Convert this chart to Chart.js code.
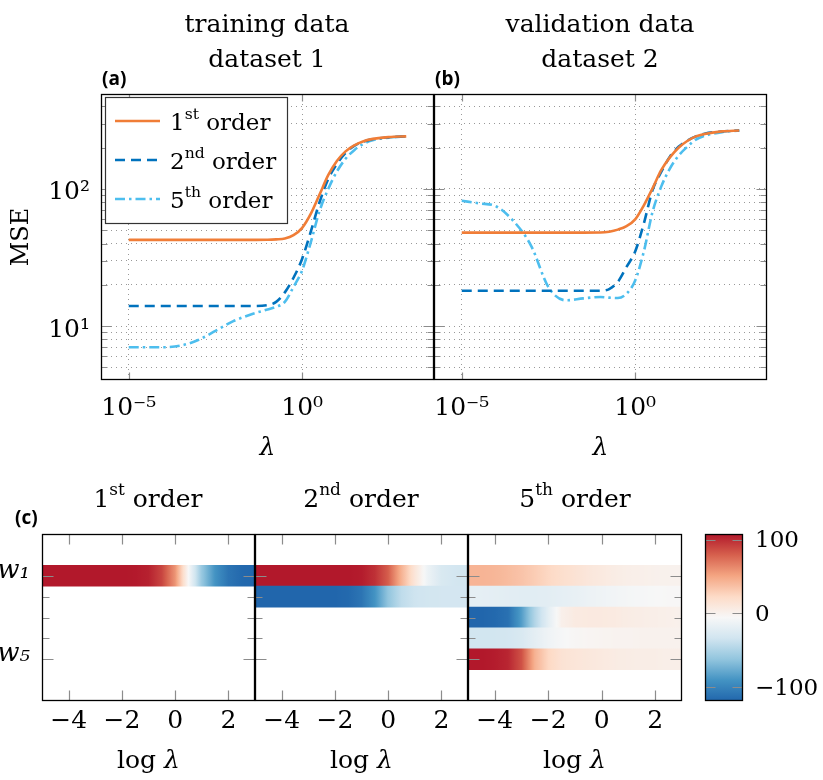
<!DOCTYPE html>
<html>
<head>
<meta charset="utf-8">
<script src="https://cdn.jsdelivr.net/npm/chart.js@4.4.1/dist/chart.umd.min.js"></script>
<style>
  body { margin: 0; background: #fff; }
  #wrap { position: relative; width: 823px; height: 780px; overflow: hidden; font-family: 'DejaVu Serif', serif; color: #000; }
  canvas { position: absolute; }
  .t { position: absolute; width: 220px; text-align: center; font-size: 25px; line-height: 35px; white-space: nowrap; }
  .tag { position: absolute; font-family: 'Open Sans', sans-serif; font-weight: bold; font-size: 19px; line-height: 19px; }
  sup { font-size: 0.68em; vertical-align: baseline; position: relative; top: -0.7em; }
  .xl { position: absolute; width: 213px; text-align: center; font-size: 25px; line-height: 30px; }
</style>
</head>
<body>
<div id="wrap">
  <canvas id="mseA" width="437" height="465" style="left:0;top:0"></canvas>
  <canvas id="mseB" width="341" height="465" style="left:431px;top:0"></canvas>
  <canvas id="hm1" width="258" height="260" style="left:0;top:520px"></canvas>
  <canvas id="hm2" width="219" height="260" style="left:252px;top:520px"></canvas>
  <canvas id="hm3" width="220" height="260" style="left:465px;top:520px"></canvas>
  <canvas id="cbar" width="123" height="200" style="left:700px;top:520px"></canvas>

  <div class="t" style="left:157px;top:6px">training data<br>dataset 1</div>
  <div class="t" style="left:490px;top:6px">validation data<br>dataset 2</div>
  <div class="tag" style="left:102px;top:69px">(a)</div>
  <div class="tag" style="left:435px;top:69px">(b)</div>
  <div class="tag" style="left:15px;top:508px">(c)</div>

  <div class="t" style="left:38px;top:481px">1<sup>st</sup> order</div>
  <div class="t" style="left:251px;top:481px">2<sup>nd</sup> order</div>
  <div class="t" style="left:465px;top:481px">5<sup>th</sup> order</div>
  <div class="xl" style="left:42px;top:745px">log <i>λ</i></div>
  <div class="xl" style="left:255px;top:745px">log <i>λ</i></div>
  <div class="xl" style="left:468px;top:745px">log <i>λ</i></div>
</div>
<script>
// MSE vs lambda (exponents of lambda)
const lamExp = [-5, -4.5, -4, -3.5, -3, -2.5, -2, -1.5, -1, -0.75, -0.5, -0.25, 0, 0.25, 0.5, 0.75, 1, 1.25, 1.5, 1.75, 2, 2.5, 3];

const trainOrder1 = [42.5, 42.5, 42.5, 42.5, 42.5, 42.5, 42.5, 42.5, 42.6, 42.9, 43.5, 46, 52, 66, 91, 126, 160, 188, 208, 222, 231, 239, 242];
const trainOrder2 = [14, 14, 14, 14, 14, 14, 14, 14, 14.2, 15, 17.6, 22.5, 31, 49, 80, 118, 152, 183, 206, 221, 230, 238, 242];
const trainOrder5 = [7, 7, 7, 7.2, 7.9, 9.2, 10.8, 12.1, 13.2, 13.8, 15, 19.3, 25.5, 41, 69, 100, 134, 166, 192, 212, 226, 237, 242];

const validOrder1 = [48, 48, 48, 48, 48, 48, 48, 48, 48.1, 48.8, 50.5, 53.5, 60, 76, 101, 137, 170, 200, 224, 242, 252, 263, 267];
const validOrder2 = [18.1, 18.1, 18.1, 18.1, 18.1, 18.1, 18.1, 18.1, 18.1, 18.6, 21, 27, 35, 56, 98, 133, 172, 203, 225, 242, 253, 263, 267];
const validOrder5 = [82, 78.5, 74.5, 58, 38.5, 19.2, 15.4, 15.9, 16.3, 16.1, 16, 17.2, 21.5, 35, 68, 104, 141, 175, 203, 229, 244, 260, 267];

const xTickExp = [-5, 0];

// weights vs log lambda
const hmLogLam = [-5, -4.5, -4, -3.5, -3, -2.5, -2, -1.5, -1, -0.5, 0, 0.5, 1, 1.5, 2, 2.5, 3];
const order1W1 = [107.5, 107.5, 107.5, 107.5, 107.5, 107.5, 107.5, 107, 104, 90, 58, -6, -60, -91, -110, -117, -119];
const order2W1 = [107.5, 107.5, 107.5, 107.5, 107.5, 107.5, 107.5, 107.5, 106, 98, 80, 44, 12, -14, -28, -32, -33];
const order2W2 = [-119, -119, -119, -119, -119, -119, -119, -117, -110, -91, -62, -42, -35, -33, -32, -32, -32];
const order5W1 = [43, 43, 42, 39, 35, 30, 24, 19, 15, 11, 8, 5, 3, 2, 1, 0.5, 0];
const order5W2 = [-19, -19, -20, -21, -22, -22, -21, -19, -17, -14, -12, -10, -8, -7, -6, -5, -5];
const order5W3 = [-119, -119, -117, -112, -85, -48, -20, 2, 7, 8, 8, 7, 5, 4, 3, 2, 1];
const order5W4 = [-33, -33, -33, -32, -28, -20, -12, -7, -4, -3, -2, -1, -1, 0, 0, 0, 0];
const order5W5 = [107.5, 107.5, 106, 102, 85, 44, 24, 15, 12, 10, 8, 6, 5, 4, 4, 3, 3];

const cbTicks = [-100, 0, 100];
const cMin = -119, cMax = 107.5;

// style
const family = 'DejaVu Serif';
const orange = '#f07d37', darkBlue = '#0072bd', lightBlue = '#4dbeee';
const tickGray = '#8c8c8c';
const rdbu = ['#2166ac', '#4393c3', '#92c5de', '#d1e5f0', '#f7f7f7', '#fddbc7', '#f4a582', '#d6604d', '#b2182b'];

const SUP = { '-': '⁻', '0': '⁰', '1': '¹', '2': '²', '3': '³', '4': '⁴', '5': '⁵', '6': '⁶', '7': '⁷', '8': '⁸', '9': '⁹' };
const isPow10 = v => { const e = Math.log10(v); return Math.abs(e - Math.round(e)) < 1e-9; };
const powLabel = v => isPow10(v) ? '10' + String(Math.round(Math.log10(v))).split('').map(c => SUP[c]).join('') : '';
const minus = v => v < 0 ? '\u2212' + Math.abs(v) : String(v);
const points = arr => lamExp.map((e, i) => ({ x: 10 ** e, y: arr[i] }));

// pin an axis box to a fixed size and drop the label overflow padding
const fixBox = (w, h) => s => {
  if (w != null) s.width = w;
  if (h != null) s.height = h;
  s.paddingLeft = s.paddingRight = s.paddingTop = s.paddingBottom = 0;
};

function hex(c) { return [1, 3, 5].map(i => parseInt(c.slice(i, i + 2), 16)); }
const rdbuRgb = rdbu.map(hex);
function cmap(v) {
  let t = (v - cMin) / (cMax - cMin);
  t = Math.max(0, Math.min(1, t)) * (rdbuRgb.length - 1);
  const i = Math.min(Math.floor(t), rdbuRgb.length - 2), f = t - i;
  const a = rdbuRgb[i], b = rdbuRgb[i + 1];
  return 'rgb(' + a.map((c, k) => Math.round(c + f * (b[k] - c))).join(',') + ')';
}

// inner ticks + black frame
const frame = {
  id: 'frame',
  afterDatasetsDraw(chart, args, o) {
    const { ctx, chartArea: a, scales } = chart;
    const L = Math.round(a.left) + 0.5, R = Math.round(a.right) - 0.5;
    const T = Math.round(a.top) + 0.5, B = Math.round(a.bottom) - 0.5;
    ctx.save();
    ctx.strokeStyle = tickGray;
    ctx.lineWidth = 1.2;
    ctx.beginPath();
    if (o.xLen) {
      scales.x.ticks.forEach(t => {
        const p = Math.round(scales.x.getPixelForValue(t.value)) + 0.5, l = o.xLen(t.value);
        ctx.moveTo(p, B); ctx.lineTo(p, B - l);
        ctx.moveTo(p, T); ctx.lineTo(p, T + l);
      });
    }
    scales.y.ticks.forEach(t => {
      const p = Math.round(scales.y.getPixelForValue(t.value)) + 0.5, l = o.yLen(t.value);
      ctx.moveTo(L, p); ctx.lineTo(L + l, p);
      ctx.moveTo(R, p); ctx.lineTo(R - l, p);
    });
    ctx.stroke();
    ctx.strokeStyle = '#000';
    ctx.lineWidth = 1.3;
    ctx.strokeRect(L, T, R - L, B - T);
    ctx.restore();
  }
};

function drawOrder(ctx, label, x, y, size) {
  const m = label.match(/^(\d+)(\D+?) (.+)$/);
  ctx.fillStyle = '#000';
  ctx.textAlign = 'left';
  ctx.textBaseline = 'alphabetic';
  ctx.font = size + 'px "' + family + '"';
  ctx.fillText(m[1], x, y);
  x += ctx.measureText(m[1]).width;
  ctx.font = (size * 0.68) + 'px "' + family + '"';
  ctx.fillText(m[2], x, y - size * 0.48);
  x += ctx.measureText(m[2]).width;
  ctx.font = size + 'px "' + family + '"';
  ctx.fillText(' ' + m[3], x, y);
}

const orderLegend = {
  id: 'orderLegend',
  afterDatasetsDraw(chart, args, o) {
    const ctx = chart.ctx;
    ctx.save();
    ctx.fillStyle = '#fff';
    ctx.fillRect(o.left, o.top, o.width, o.height);
    ctx.strokeStyle = '#333';
    ctx.lineWidth = 1.2;
    ctx.strokeRect(o.left + 0.5, o.top + 0.5, o.width, o.height);
    chart.data.datasets.forEach((ds, i) => {
      const y = o.top + o.firstRow + i * o.rowGap;
      ctx.strokeStyle = ds.borderColor;
      ctx.lineWidth = ds.borderWidth;
      ctx.setLineDash(ds.borderDash);
      ctx.beginPath();
      ctx.moveTo(o.left + 10, y);
      ctx.lineTo(o.left + 55, y);
      ctx.stroke();
      ctx.setLineDash([]);
      drawOrder(ctx, ds.label, o.left + 65, y + 9, 23);
    });
    ctx.restore();
  }
};

const yMin = 10 ** 0.606, yMax = 10 ** 2.693;
const yTickVals = [];
[0, 1, 2].forEach(e => { for (let m = 1; m <= 9; m++) { const v = m * 10 ** e; if (v >= yMin && v <= yMax) yTickVals.push(v); } });

function mseChart(id, s1, s2, s5, first) {
  return new Chart(document.getElementById(id), {
    type: 'line',
    data: {
      datasets: [
        { label: '1st order', data: points(s1), borderColor: orange, borderWidth: 2.6, borderDash: [] },
        { label: '2nd order', data: points(s2), borderColor: darkBlue, borderWidth: 2.6, borderDash: [10, 6] },
        { label: '5th order', data: points(s5), borderColor: lightBlue, borderWidth: 2.6, borderDash: [10, 4, 2.5, 4] }
      ]
    },
    options: {
      responsive: false, animation: false, events: [],
      layout: { autoPadding: false, padding: { top: 94, right: first ? 3 : 5, left: 0, bottom: 0 } },
      elements: { point: { radius: 0 }, line: { cubicInterpolationMode: 'monotone', fill: false } },
      plugins: {
        legend: { display: false }, tooltip: { enabled: false },
        frame: { xLen: () => 7, yLen: v => isPow10(v) ? 10 : 6 },
        orderLegend: { left: 105, top: 97, width: 182, height: 126, firstRow: 24, rowGap: 39 }
      },
      scales: {
        x: {
          type: 'logarithmic', min: 10 ** -5.8, max: 10 ** 3.8,
          afterBuildTicks: s => { s.ticks = xTickExp.map(e => ({ value: 10 ** e })); },
          afterFit: fixBox(null, 85),
          grid: { color: '#999', drawTicks: false },
          border: { display: false, dash: [1, 4] },
          ticks: { callback: v => powLabel(v), font: { family, size: 25 }, color: '#000', padding: 13, maxRotation: 0, autoSkip: false },
          title: { display: true, text: 'λ', color: '#000', font: { family, size: 25, style: 'italic' }, padding: { top: 0, bottom: 2 } }
        },
        y: {
          type: 'logarithmic', min: yMin, max: yMax,
          afterBuildTicks: s => { s.ticks = yTickVals.map(v => ({ value: v })); },
          afterFit: fixBox(first ? 101 : 3, null),
          grid: { color: '#999', drawTicks: false },
          border: { display: false, dash: [1, 4] },
          ticks: { display: first, callback: v => powLabel(v), font: { family, size: 25 }, color: '#000', padding: 11, labelOffset: 4, autoSkip: false },
          title: { display: first, text: 'MSE', color: '#000', font: { family, size: 24 }, padding: { top: 7, bottom: 0 } }
        }
      }
    },
    plugins: first ? [frame, orderLegend] : [frame]
  });
}

mseChart('mseA', trainOrder1, trainOrder2, trainOrder5, true);
mseChart('mseB', validOrder1, validOrder2, validOrder5, false);

// heat maps: one floating bar per weight, filled with the colour map along lambda
function rowGradient(chart, vals) {
  const xs = chart.scales.x;
  const first = hmLogLam[0], last = hmLogLam[hmLogLam.length - 1];
  const g = chart.ctx.createLinearGradient(xs.getPixelForValue(first), 0, xs.getPixelForValue(last), 0);
  for (let k = 0; k < vals.length - 1; k++) {
    for (let s = 0; s < 8; s++) {
      const f = s / 8;
      const lam = hmLogLam[k] + f * (hmLogLam[k + 1] - hmLogLam[k]);
      g.addColorStop((lam - first) / (last - first), cmap(vals[k] + f * (vals[k + 1] - vals[k])));
    }
  }
  g.addColorStop(1, cmap(vals[vals.length - 1]));
  return g;
}

function heatChart(id, rows, first) {
  return new Chart(document.getElementById(id), {
    type: 'bar',
    data: {
      datasets: [{
        data: rows.map((r, j) => ({ x: [hmLogLam[0], hmLogLam[hmLogLam.length - 1]], y: j + 1 })),
        backgroundColor: c => (c.type === 'data' && c.chart.chartArea) ? rowGradient(c.chart, rows[c.dataIndex]) : 'rgba(0,0,0,0)',
        borderWidth: 0, categoryPercentage: 1, barPercentage: 1
      }]
    },
    options: {
      indexAxis: 'y',
      responsive: false, animation: false, events: [],
      layout: { autoPadding: false, padding: { top: 14, right: 3, left: 0, bottom: 0 } },
      plugins: {
        legend: { display: false }, tooltip: { enabled: false },
        frame: { xLen: () => 10, yLen: v => (v === 1 || v === 5) ? 11 : 7 }
      },
      scales: {
        x: {
          type: 'linear', min: -5, max: 3,
          afterBuildTicks: s => { s.ticks = [-4, -2, 0, 2].map(v => ({ value: v })); },
          afterFit: fixBox(null, 79),
          grid: { display: false, drawTicks: false }, border: { display: false },
          ticks: { callback: v => minus(v), font: { family, size: 25 }, color: '#000', padding: 5, maxRotation: 0, autoSkip: false }
        },
        y: {
          type: 'linear', min: -1, max: 7, reverse: true, offset: false,
          afterBuildTicks: s => { s.ticks = [1, 2, 3, 4, 5].map(v => ({ value: v })); },
          afterFit: fixBox(first ? 42 : 3, null),
          grid: { display: false, drawTicks: false, offset: false }, border: { display: false },
          ticks: { display: first, callback: v => v === 1 ? 'w₁' : v === 5 ? 'w₅' : '', font: { family, size: 26, style: 'italic' }, color: '#000', padding: 12, labelOffset: -5, autoSkip: false }
        }
      }
    },
    plugins: [frame]
  });
}

heatChart('hm1', [order1W1], true);
heatChart('hm2', [order2W1, order2W2], false);
heatChart('hm3', [order5W1, order5W2, order5W3, order5W4, order5W5], false);

// colour bar
new Chart(document.getElementById('cbar'), {
  type: 'bar',
  data: {
    labels: [''],
    datasets: [{
      data: [[cMin, cMax]],
      backgroundColor: c => {
        const a = c.chart.chartArea;
        if (!a) return 'rgba(0,0,0,0)';
        const ys = c.chart.scales.y;
        const g = c.chart.ctx.createLinearGradient(0, ys.getPixelForValue(cMin), 0, ys.getPixelForValue(cMax));
        rdbu.forEach((col, i) => g.addColorStop(i / (rdbu.length - 1), col));
        return g;
      },
      borderWidth: 0, categoryPercentage: 1, barPercentage: 1
    }]
  },
  options: {
    responsive: false, animation: false, events: [],
    layout: { autoPadding: false, padding: { top: 14, right: 0, left: 5, bottom: 19 } },
    plugins: {
      legend: { display: false }, tooltip: { enabled: false },
      frame: { yLen: () => 10 }
    },
    scales: {
      x: { display: false },
      y: {
        position: 'right', min: cMin, max: cMax,
        afterBuildTicks: s => { s.ticks = cbTicks.map(v => ({ value: v })); },
        afterFit: fixBox(80, null),
        grid: { display: false, drawTicks: false }, border: { display: false },
        ticks: { callback: v => minus(v), font: { family, size: 23 }, color: '#000', padding: 12, labelOffset: 2, autoSkip: false }
      }
    }
  },
  plugins: [frame]
});
</script>
</body>
</html>
